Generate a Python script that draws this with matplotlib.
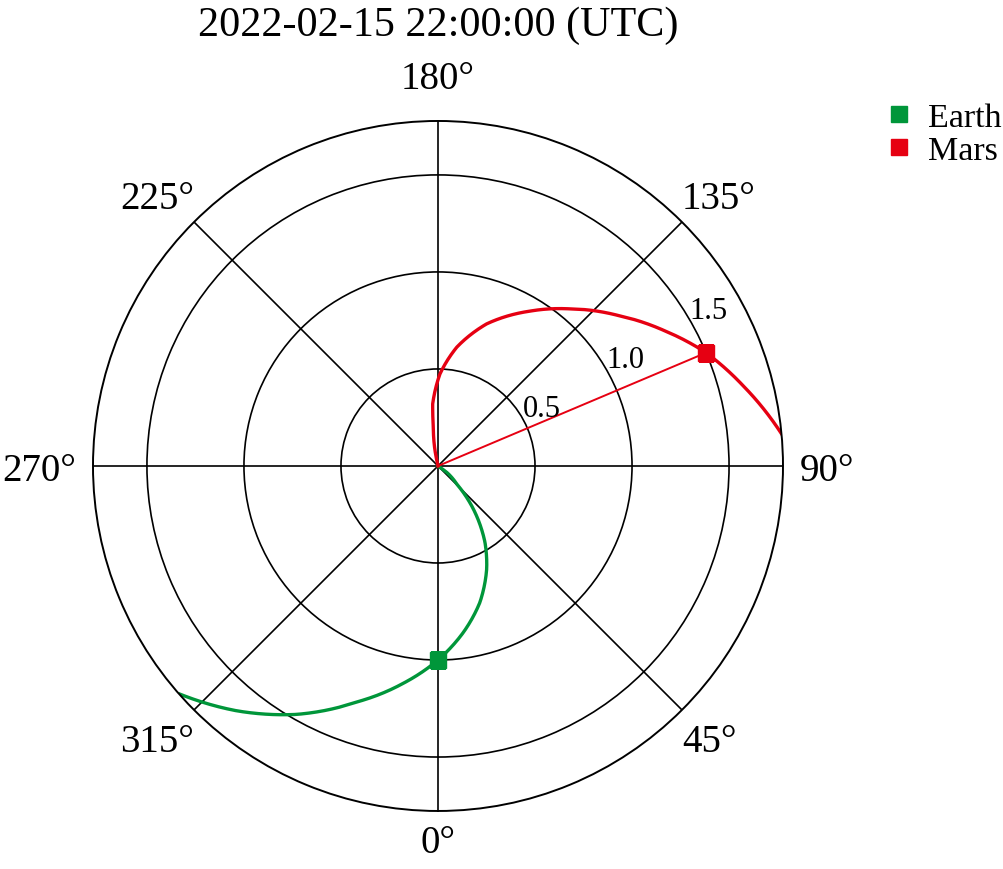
import numpy as np
import matplotlib
matplotlib.use("Agg")
import matplotlib.pyplot as plt
from matplotlib.lines import Line2D

plt.rcParams['font.family'] = ['Liberation Serif', 'DejaVu Serif']

title = "2022-02-15 22:00:00 (UTC)"

#orbit traces, theta in degrees, r in AU
earth_theta = [56, 54, 46.1, 39.4, 31.6, 25.3, 17.1, 8.7, 0.0, -9.2, -19.1, -29.7, -39.4, -48.5]
earth_r = [0.0, 0.055, 0.134, 0.287, 0.462, 0.587, 0.735, 0.867, 1.0, 1.136, 1.288, 1.474, 1.633, 1.775]
mars_theta = [193, 191, 186.9, 184.9, 178.8, 171.0, 161.1, 149.3, 140.0, 129.6, 120.7, 112.9, 104.6, 95.3]
mars_r = [0.0, 0.08, 0.201, 0.321, 0.474, 0.620, 0.774, 0.928, 1.057, 1.214, 1.362, 1.5, 1.628, 1.779]

#current positions
earth_now = (0.0, 1.0)
mars_now = (112.9, 1.5)

theta_ticks = [0, 45, 90, 135, 180, 225, 270, 315]
r_ticks = [0.5, 1.0, 1.5]
r_labels = ['0.5', '1.0', '1.5']
r_max = 1.778

green = '#00963a'
red = '#e60012'


def curve(ax, theta, r, color):
    #let the polar transform bend the segments into arcs/spirals
    ln, = ax.plot(np.deg2rad(theta), r, color=color, lw=2.4)
    ln.get_path()._interpolation_steps = 40
    return ln


fig = plt.figure(figsize=(10.04, 8.7), dpi=100)
ax = fig.add_axes([0.0926, 0.0667, 0.6873, 0.7931], projection='polar')
ax.set_theta_zero_location('S')
ax.set_theta_direction(1)

curve(ax, earth_theta, earth_r, green)
curve(ax, mars_theta, mars_r, red)

#radius line to mars
ax.plot(np.deg2rad([mars_now[0], mars_now[0]]), [0, mars_now[1]], color=red, lw=1.4)

ax.plot(np.deg2rad(earth_now[0]), earth_now[1], marker='s', ms=11.5, color=green, ls='none', zorder=4)
ax.plot(np.deg2rad(mars_now[0]), mars_now[1], marker='s', ms=11.5, color=red, ls='none', zorder=4)

ax.set_xticks(np.deg2rad(theta_ticks))
ax.set_xticklabels([])
ax.set_yticks(r_ticks)
ax.set_yticklabels([])
ax.set_ylim(0, r_max)
ax.grid(color='black', lw=1.2)
ax.spines['polar'].set_linewidth(1.4)
ax.tick_params(length=0)

#angular labels anchored on the side facing the circle
for t in theta_ticks:
    sx = np.sin(np.deg2rad(t))
    sy = -np.cos(np.deg2rad(t))
    if abs(sy) < 0.1:
        ha = 'left' if sx > 0 else 'right'
        va = 'center_baseline'
        off = (17 * np.sign(sx), 0)
    elif sy < 0:
        ha = 'center' if abs(sx) < 0.1 else 'left' if sx > 0 else 'right'
        va = 'top'
        off = (0, -13)
    else:
        ha = 'center' if abs(sx) < 0.1 else 'left' if sx > 0 else 'right'
        va = 'baseline'
        off = (0, 33 if abs(sx) < 0.1 else 14)
    ax.annotate(f"{t}\N{DEGREE SIGN}", xy=(np.deg2rad(t), r_max), xytext=off,
                textcoords='offset pixels', ha=ha, va=va, fontsize=28,
                annotation_clip=False)

#radial labels along one ray, nudged outwards
r_label_angle = 120.5
m = np.deg2rad(r_label_angle - 90)
for r, lbl in zip(r_ticks, r_labels):
    ax.annotate(lbl, xy=(np.deg2rad(r_label_angle), r), xytext=(23 * np.cos(m), 23 * np.sin(m)),
                textcoords='offset pixels', ha='center', va='center_baseline', fontsize=22)

fig.text(0.4363, 1 - 36 / 870, title, ha='center', va='baseline', fontsize=30.3)

handles = [Line2D([], [], marker='s', ls='none', color=green, ms=11.5),
           Line2D([], [], marker='s', ls='none', color=red, ms=11.5)]
fig.legend(handles, ['Earth', 'Mars'], loc='upper left', bbox_to_anchor=(0.882, 0.881),
           frameon=False, fontsize=24.5, handlelength=0.8, handletextpad=0.45,
           labelspacing=0.05, borderaxespad=0, borderpad=0)

plt.savefig('out.png')
